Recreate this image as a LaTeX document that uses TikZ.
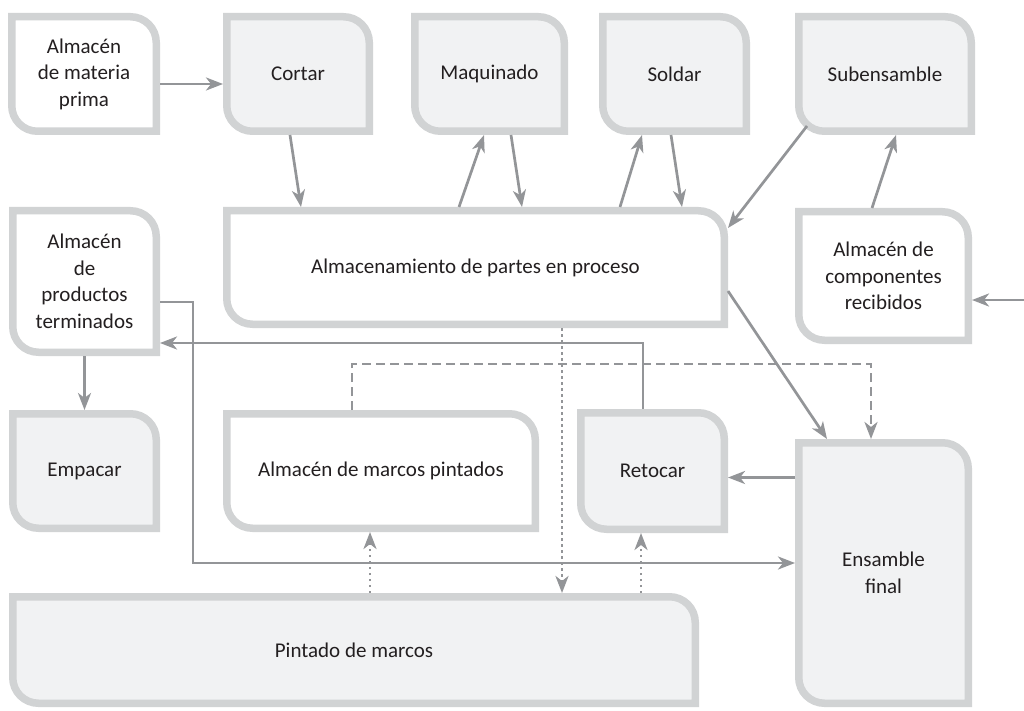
\documentclass[tikz,border=0pt]{standalone}
\usepackage{fontspec}
\setmainfont{Carlito}
\usetikzlibrary{arrows.meta,backgrounds}
\definecolor{boxgray}{HTML}{D1D3D4}
\definecolor{procfill}{HTML}{F1F2F3}
\definecolor{arrgray}{HTML}{939598}
\definecolor{txtgray}{HTML}{231F20}
\tikzset{
  box/.style={rectangle, draw=none, inner sep=0pt, outer sep=0pt, align=center,
    text=txtgray, font=\fontsize{21}{26.5}\selectfont},
  boxline/.style={draw=boxgray, line width=7.5pt, line join=miter},
  arr/.style={draw=arrgray, line width=2.7pt, -{Stealth[length=17pt,width=13pt,inset=5pt]}},
  dasharr/.style={arr, dash pattern=on 9pt off 5pt},
  dotarr/.style={arr, dash pattern=on 2.5pt off 3.5pt},
}
\newcommand\leafbox[2]{%
  \path[boxline,fill=#2]
    ([shift={(3.75pt,-3.75pt)}]#1.north west)
    -- ([shift={(-29.5pt,-3.75pt)}]#1.north east)
    .. controls ([shift={(-15.2pt,-3.75pt)}]#1.north east) and ([shift={(-3.75pt,-15.2pt)}]#1.north east)
    .. ([shift={(-3.75pt,-29.5pt)}]#1.north east)
    -- ([shift={(-3.75pt,3.75pt)}]#1.south east)
    -- ([shift={(29.5pt,3.75pt)}]#1.south west)
    .. controls ([shift={(15.2pt,3.75pt)}]#1.south west) and ([shift={(3.75pt,15.2pt)}]#1.south west)
    .. ([shift={(3.75pt,29.5pt)}]#1.south west)
    -- cycle;}
\begin{document}
\begin{tikzpicture}[x=1pt,y=-1pt]
\useasboundingbox (0,0) rectangle (1024,711);
% nodes
\node[box, minimum width=152pt, minimum height=122pt] (mp) at (84,74) {Almacén\\de materia\\prima};
\node[box, minimum width=150pt, minimum height=122pt] (cortar) at (298,74) {Cortar};
\node[box, minimum width=157pt, minimum height=122pt] (maq) at (489.5,74) {Maquinado};
\node[box, minimum width=151pt, minimum height=122pt] (soldar) at (674.5,74) {Soldar};
\node[box, minimum width=180pt, minimum height=122pt] (sub) at (885,74) {Subensamble};
\node[box, minimum width=505pt, minimum height=121pt] (alm) at (475.5,267.5) {Almacenamiento de partes en proceso};
\node[box, minimum width=151pt, minimum height=149pt] (apt) at (84.5,281.5) {Almacén\\de\\productos\\terminados};
\node[box, minimum width=177pt, minimum height=136pt] (acr) at (883.5,276) {Almacén de\\componentes\\recibidos};
\node[box, minimum width=151pt, minimum height=122pt] (emp) at (84.5,471) {Empacar};
\node[box, minimum width=316pt, minimum height=122pt] (amp) at (381,471) {Almacén de marcos pintados};
\node[box, minimum width=151pt, minimum height=124pt] (ret) at (652.5,471) {Retocar};
\node[box, minimum width=177pt, minimum height=268pt] (ens) at (883.5,573) {Ensamble\\final};
\node[box, minimum width=690pt, minimum height=114pt] (pin) at (354,650) {Pintado de marcos};
% boxes
\begin{scope}[on background layer]
  \fill[white] (0,0) rectangle (1024,711);
  \leafbox{mp}{white}
  \leafbox{cortar}{procfill}
  \leafbox{maq}{procfill}
  \leafbox{soldar}{procfill}
  \leafbox{sub}{procfill}
  \leafbox{alm}{white}
  \leafbox{apt}{white}
  \leafbox{acr}{white}
  \leafbox{emp}{procfill}
  \leafbox{amp}{white}
  \leafbox{ret}{procfill}
  \leafbox{ens}{procfill}
  \leafbox{pin}{procfill}
\end{scope}
% helper coordinates
\coordinate (ext) at (1024,300);
\coordinate (d1) at (352,364);
\coordinate (d2) at (871,364);
\coordinate (r1) at (643,343);
\coordinate (p1) at (193,302);
\coordinate (p2) at (193,563);
% connectors
\draw[arr] ([yshift=-10pt]mp.east) -- ([yshift=-10pt]cortar.west);
\draw[arr] ([xshift=-8pt]cortar.south) -- ([xshift=78pt]alm.north west);
\draw[arr] ([xshift=236pt]alm.north west) -- ([xshift=-5.5pt]maq.south);
\draw[arr] ([xshift=21.5pt]maq.south) -- ([xshift=299pt]alm.north west);
\draw[arr] ([xshift=397pt]alm.north west) -- ([xshift=-32.5pt]soldar.south);
\draw[arr] ([xshift=-3.5pt]soldar.south) -- ([xshift=459pt]alm.north west);
\draw[arr] ([shift={(12pt,9pt)}]sub.south west) -- ([yshift=-21pt]alm.north east);
\draw[arr] ([xshift=-11.5pt]acr.north) -- ([xshift=11pt]sub.south);
\draw[arr] (ext) -- (acr.east |- ext);
\draw[arr] ([yshift=-23.5pt]alm.east) -- ([xshift=-56.5pt]ens.north);
\draw[dasharr] (amp.north -| d1) -- (d1) -- (d2) -- (ens.north -| d2);
\draw[arr] (ret.north -| r1) -- (r1) -- (apt.east |- r1);
\draw[arr] (apt.east |- p1) -- (p1) -- (p2) -- (ens.west |- p2);
\draw[arr] (apt.south) -- (emp.north);
\draw[arr] ([yshift=95.5pt]ens.west) -- ([yshift=-6.5pt]ret.east);
\draw[dotarr] ([xshift=86.5pt]alm.south) -- ([xshift=208pt]pin.north);
\draw[dotarr] ([xshift=16pt]pin.north) -- ([xshift=-11pt]amp.south);
\draw[dotarr] ([xshift=287pt]pin.north) -- ([xshift=-11.5pt]ret.south);
\end{tikzpicture}
\end{document}
